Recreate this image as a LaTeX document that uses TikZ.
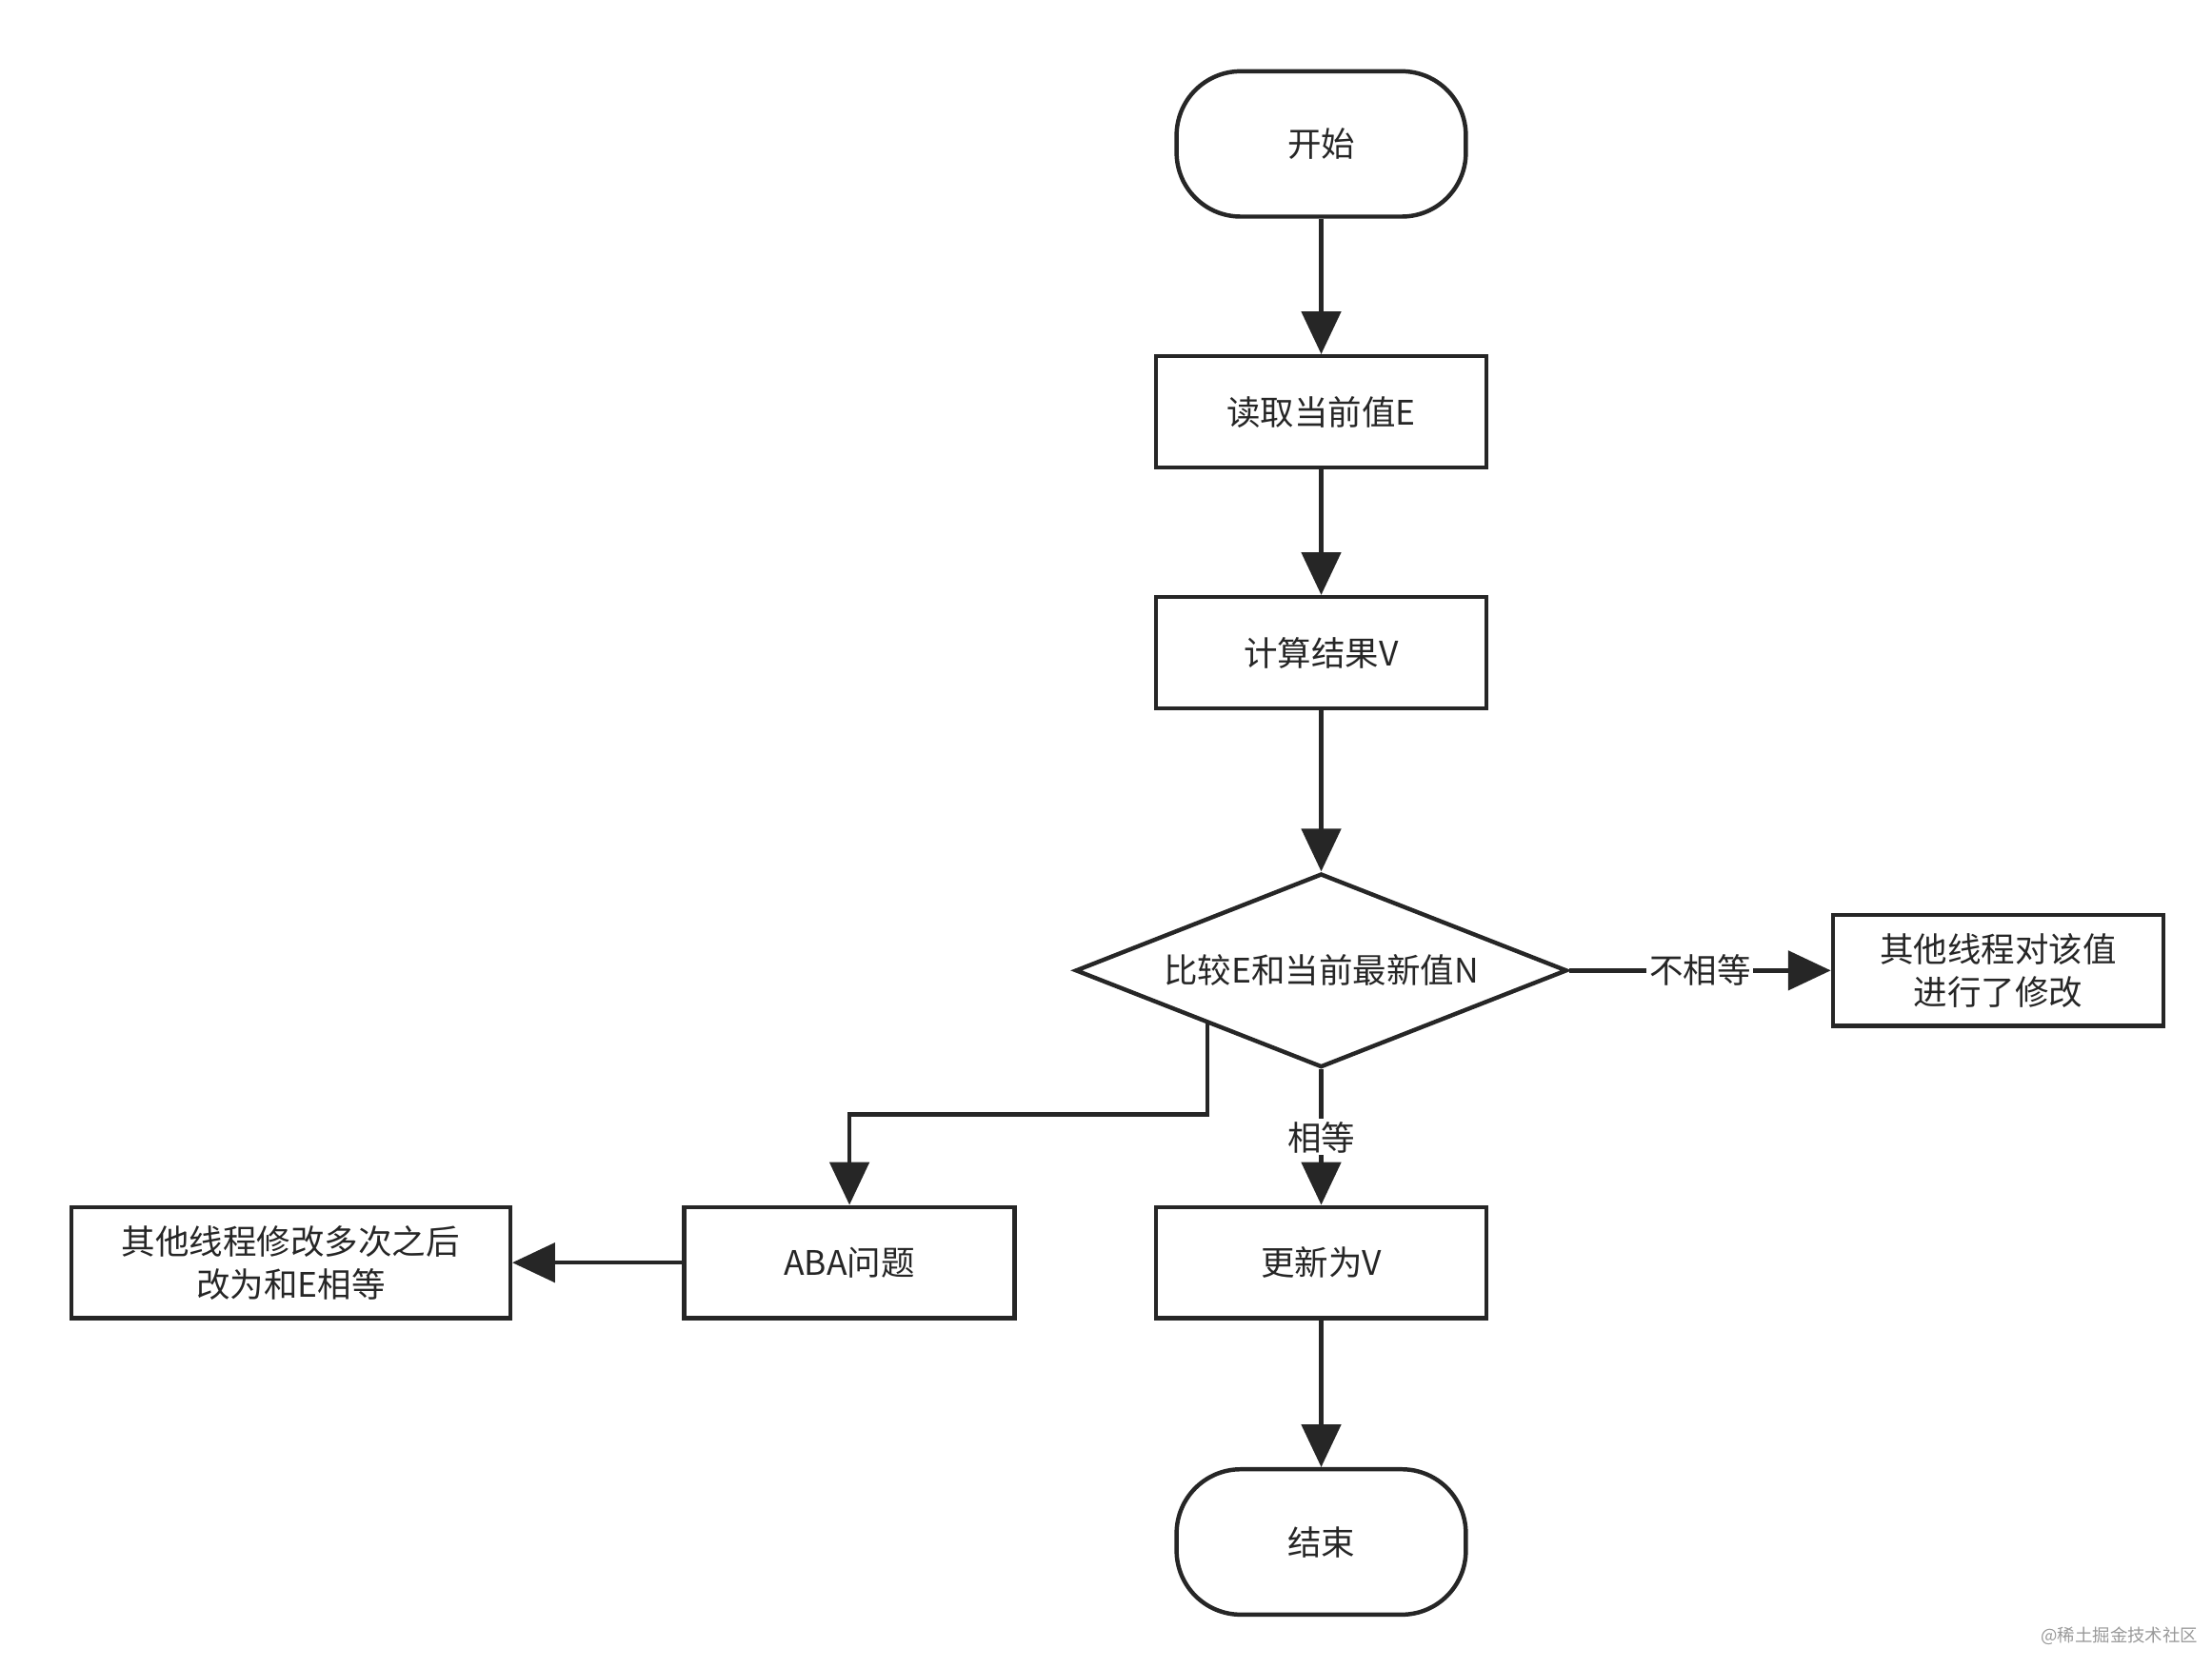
\documentclass[tikz,border=0pt]{standalone}
\usepackage{fontspec}
\newfontfamily\cjk{Noto Sans CJK SC}
\usetikzlibrary{shapes.geometric,arrows.meta}
\begin{document}
\begin{tikzpicture}[x=0.02cm,y=-0.02cm,
  every node/.style={font=\cjk\fontsize{13.5pt}{16pt}\selectfont, text=black!85},
  box/.style={draw=black!85, line width=1.7pt, minimum width=4.64cm, minimum height=1.56cm, inner sep=0pt, align=center, fill=white},
  term/.style={draw=black!85, line width=1.7pt, rounded corners=0.9cm, minimum width=4.06cm, minimum height=2.04cm, inner sep=0pt},
  arr/.style={draw=black!85, line width=1.7pt, -{Triangle[length=0.6cm,width=0.55cm]}},
  lbl/.style={fill=white, inner sep=1pt}]
\useasboundingbox (0,0) rectangle (1552,1171);
\node[term] (start) at (927,101) {开始};
\node[box] (read) at (927,289) {读取当前值E};
\node[box] (calc) at (927,458) {计算结果V};
\node[draw=black!85, line width=1.7pt, diamond, aspect=2.54, minimum width=6.9cm, minimum height=2.72cm, inner sep=0pt] (cmp) at (927,681) {比较E和当前最新值N};
\node[box] (mod) at (1402,681) {其他线程对该值\\[1pt]进行了修改};
\node[box] (aba) at (596,886) {ABA问题};
\node[box, minimum width=6.16cm] (left) at (204,886) {其他线程修改多次之后\\[1pt]改为和E相等};
\node[box] (upd) at (927,886) {更新为V};
\node[term] (end) at (927,1082) {结束};
\coordinate (b) at (847,717);
\draw[arr] (start) -- (read);
\draw[arr] (read) -- (calc);
\draw[arr] (calc) -- (cmp);
\draw[arr] (cmp) -- node[lbl]{不相等} (mod);
\draw[arr] (cmp) -- node[lbl, pos=0.5]{相等} (upd);
\draw[arr] (b) -- (847,782) -- (596,782) -- (aba);
\draw[arr] (aba) -- (left);
\draw[arr] (upd) -- (end);
\node[font=\cjk\fontsize{7pt}{8pt}\selectfont, text=black!40] (wm) at (1487,1148) {@稀土掘金技术社区};
\end{tikzpicture}
\end{document}
